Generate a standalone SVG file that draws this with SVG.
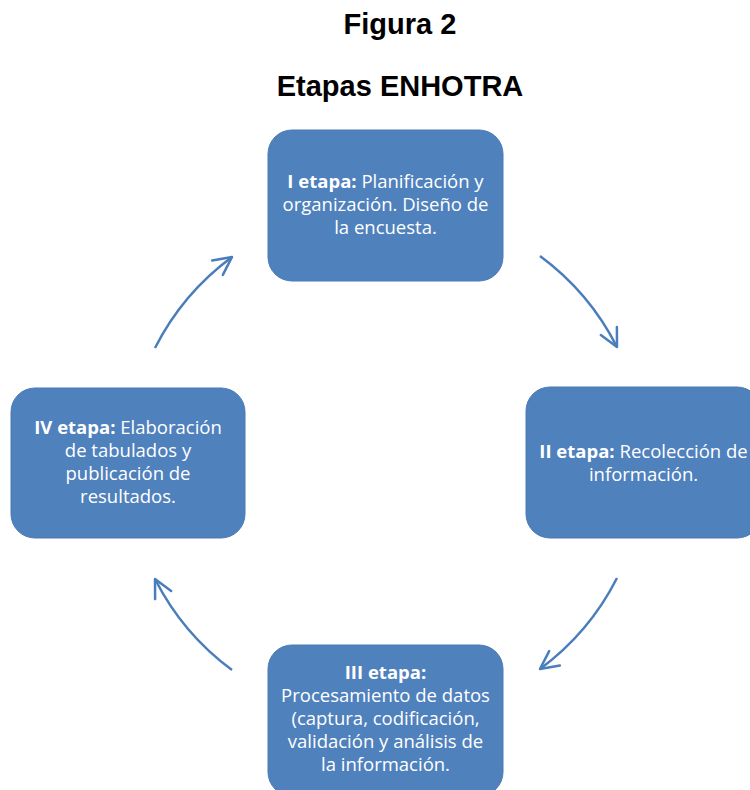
<svg xmlns="http://www.w3.org/2000/svg" width="750" height="790" viewBox="0 0 750 790">
<defs>
<style>
.title{font-family:"Liberation Sans",Arial,sans-serif;font-weight:bold;font-size:29px;fill:#000;text-anchor:middle}
.box{fill:#4F81BD;stroke:#4A7AB5;stroke-width:1}
.t{font-family:"Open Sans","Liberation Sans",sans-serif;font-size:18.5px;fill:#fff;text-anchor:middle}
.b{font-weight:bold}
.arc{fill:none;stroke:#4A7EBB;stroke-width:2.5;marker-end:url(#head)}
</style>
<marker id="head" markerUnits="userSpaceOnUse" markerWidth="30" markerHeight="30" viewBox="-22 -15 30 30" refX="0" refY="0" orient="auto">
<path d="M-18,-9 L0,0 L-18,9" fill="none" stroke="#4A7EBB" stroke-width="2.5" stroke-linecap="round" stroke-linejoin="round"/>
</marker>
</defs>
<rect width="750" height="790" fill="#fff"/>
<text class="title" x="400" y="34">Figura 2</text>
<text class="title" x="400" y="96">Etapas ENHOTRA</text>

<g id="connectors">
<path class="arc" d="M155,348 A258,258 0 0 1 232,257"/>
<path class="arc" d="M540,256 A258,258 0 0 1 617,347"/>
<path class="arc" d="M617,578 A258,258 0 0 1 540,669"/>
<path class="arc" d="M232,670 A258,258 0 0 1 155,579"/>
</g>

<g id="etapa1">
<rect class="box" x="268" y="130" width="235" height="151" rx="24"/>
<text class="t" x="385.5" y="188"><tspan class="b">I etapa:</tspan> Planificación y</text>
<text class="t" x="385.5" y="211">organización. Diseño de</text>
<text class="t" x="385.5" y="234">la encuesta.</text>
</g>

<g id="etapa2">
<rect class="box" x="526" y="387" width="235" height="151" rx="24"/>
<text class="t" x="643.5" y="458"><tspan class="b">II etapa:</tspan> Recolección de</text>
<text class="t" x="643.5" y="481">información.</text>
</g>

<g id="etapa3">
<rect class="box" x="268" y="645" width="235" height="151" rx="24"/>
<text class="t b" x="385.5" y="679">III etapa:</text>
<text class="t" x="385.5" y="702">Procesamiento de datos</text>
<text class="t" x="385.5" y="725">(captura, codificación,</text>
<text class="t" x="385.5" y="748">validación y análisis de</text>
<text class="t" x="385.5" y="771">la información.</text>
</g>

<g id="etapa4">
<rect class="box" x="11" y="388" width="234" height="150" rx="24"/>
<text class="t" x="128" y="434"><tspan class="b">IV etapa:</tspan> Elaboración</text>
<text class="t" x="128" y="457">de tabulados y</text>
<text class="t" x="128" y="480">publicación de</text>
<text class="t" x="128" y="503">resultados.</text>
</g>
</svg>
